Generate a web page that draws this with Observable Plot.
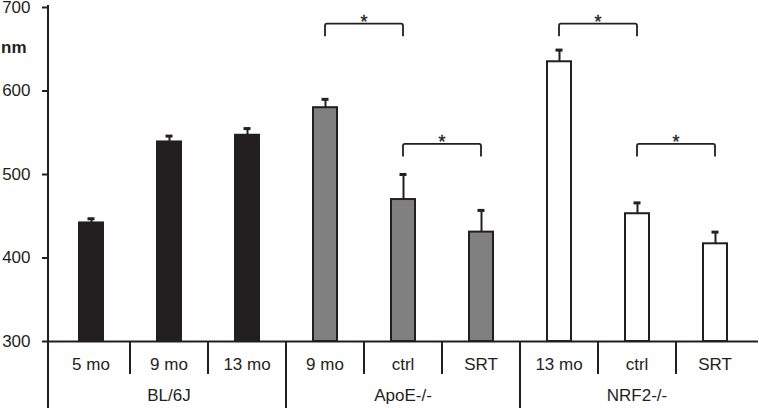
<!DOCTYPE html>
<html>
<head>
<meta charset="utf-8">
<script src="https://cdn.jsdelivr.net/npm/d3@7"></script>
<script src="https://cdn.jsdelivr.net/npm/@observablehq/plot@0.6"></script>
<style>
  html, body { margin: 0; padding: 0; background: #fff; }
  #chart svg { display: block; }
</style>
</head>
<body>
<div id="chart"></div>
<script>
// ---- data ----
const groupNames = ["BL/6J", "ApoE-/-", "NRF2-/-"];
const groupOf = [0, 0, 0, 1, 1, 1, 2, 2, 2];
const subLabels = ["5 mo", "9 mo", "13 mo", "9 mo", "ctrl", "SRT", "13 mo", "ctrl", "SRT"];
const values = [442, 539, 547, 580, 470, 431, 635, 453, 417];
const errors = [5, 7, 8, 10, 30, 26, 14, 13, 14];
const groupFills = ["#231f20", "#808080", "#ffffff"];
const yTicks = [300, 400, 500, 600, 700];
const yDomain = [300, 700];
const yUnit = "nm";
// significance brackets: bar index from/to, top level, leg level
const bracketFrom = [3, 4, 6, 7];
const bracketTo = [4, 5, 7, 8];
const bracketTop = [680, 536, 680, 536];
const bracketLeg = [665, 521, 665, 521];
const bracketText = ["*", "*", "*", "*"];

const ink = "#231f20";
const font = "'Liberation Sans', Arial, Helvetica, sans-serif";

const keys = subLabels.map((_, i) => String(i));
const bars = keys.map((k, i) => ({
  key: k, value: values[i], err: errors[i], top: values[i] + errors[i],
  fill: groupFills[groupOf[i]]
}));
const brackets = bracketFrom.map((f, i) => ({
  from: String(f), to: String(bracketTo[i]), top: bracketTop[i], leg: bracketLeg[i], text: bracketText[i]
}));

const W = 759, H = 408;

// custom mark: two-level category axis + separators + left axis line + unit label
function categoryAxis(index, scales, values_, dims) {
  const x = scales.x, y = scales.y;
  const step = x("1") - x("0");
  const y0 = y(yDomain[0]);
  const g = d3.create("svg:g").attr("font-family", font).attr("fill", ink);
  g.append("line").attr("x1", dims.marginLeft).attr("x2", dims.marginLeft)
    .attr("y1", y(yDomain[1]) - 2).attr("y2", H)
    .attr("stroke", ink).attr("stroke-width", 2);
  keys.forEach((k, i) => {
    const x0 = x(k);
    const isGroupStart = i === 0 || groupOf[i] !== groupOf[i - 1];
    if (i > 0) {
      g.append("line").attr("x1", x0).attr("x2", x0)
        .attr("y1", y0).attr("y2", isGroupStart ? H : y0 + 33)
        .attr("stroke", ink).attr("stroke-width", 2);
    }
    g.append("text").attr("x", x0 + step / 2).attr("y", y0 + 29)
      .attr("text-anchor", "middle").attr("font-size", 17).text(subLabels[i]);
  });
  groupNames.forEach((name, gi) => {
    const idx = groupOf.map((v, i) => v === gi ? i : -1).filter(i => i >= 0);
    const xs = x(keys[idx[0]]);
    const xe = x(keys[idx[idx.length - 1]]) + step;
    g.append("text").attr("x", (xs + xe) / 2).attr("y", y0 + 60)
      .attr("text-anchor", "middle").attr("font-size", 17).text(name);
  });
  g.append("text").attr("x", 1).attr("y", 53).attr("font-size", 17)
    .attr("text-anchor", "start")
    .attr("font-weight", "bold").text(yUnit);
  return g.node();
}

// custom mark: significance brackets
function bracketMark(index, scales) {
  const x = scales.x, y = scales.y;
  const step = x("1") - x("0");
  const g = d3.create("svg:g").attr("font-family", font);
  brackets.forEach(b => {
    const xa = x(b.from) + step / 2, xb = x(b.to) + step / 2;
    const yt = y(b.top), yl = y(b.leg);
    g.append("path")
      .attr("d", `M${xa},${yl}L${xa},${yt + 2}Q${xa},${yt} ${xa + 2},${yt}L${xb - 2},${yt}Q${xb},${yt} ${xb},${yt + 2}L${xb},${yl}`)
      .attr("fill", "none").attr("stroke", ink).attr("stroke-width", 1.8);
    g.append("text").attr("x", (xa + xb) / 2).attr("y", yt + 4)
      .attr("text-anchor", "middle").attr("font-size", 18).attr("fill", ink)
      .attr("stroke", ink).attr("stroke-width", 0.4).text(b.text);
  });
  return g.node();
}

const chart = Plot.plot({
  width: W,
  height: H,
  marginLeft: 48,
  marginRight: 1,
  marginTop: 7,
  marginBottom: 67,
  style: { fontFamily: font, background: "#fff", color: ink, overflow: "visible" },
  x: { domain: keys, padding: 0, axis: null },
  y: { domain: yDomain, ticks: yTicks, label: null },
  marks: [
    Plot.axisY({ ticks: yTicks, tickSize: 6, tickPadding: 12, fontSize: 17, stroke: ink, strokeWidth: 2, fill: ink, label: null }),
    Plot.barY(bars, { x: "key", y1: yDomain[0], y2: "value", fill: "fill", stroke: ink, strokeWidth: 2, insetLeft: 27, insetRight: 27 }),
    Plot.ruleX(bars, { x: "key", y1: "value", y2: "top", stroke: ink, strokeWidth: 2 }),
    Plot.tickY(bars, { x: "key", y: "top", stroke: ink, strokeWidth: 3, insetLeft: 35.5, insetRight: 35.5 }),
    Plot.ruleY([yDomain[0]], { stroke: ink, strokeWidth: 2 }),
    categoryAxis,
    bracketMark
  ]
});
document.getElementById("chart").appendChild(chart);
</script>
</body>
</html>
